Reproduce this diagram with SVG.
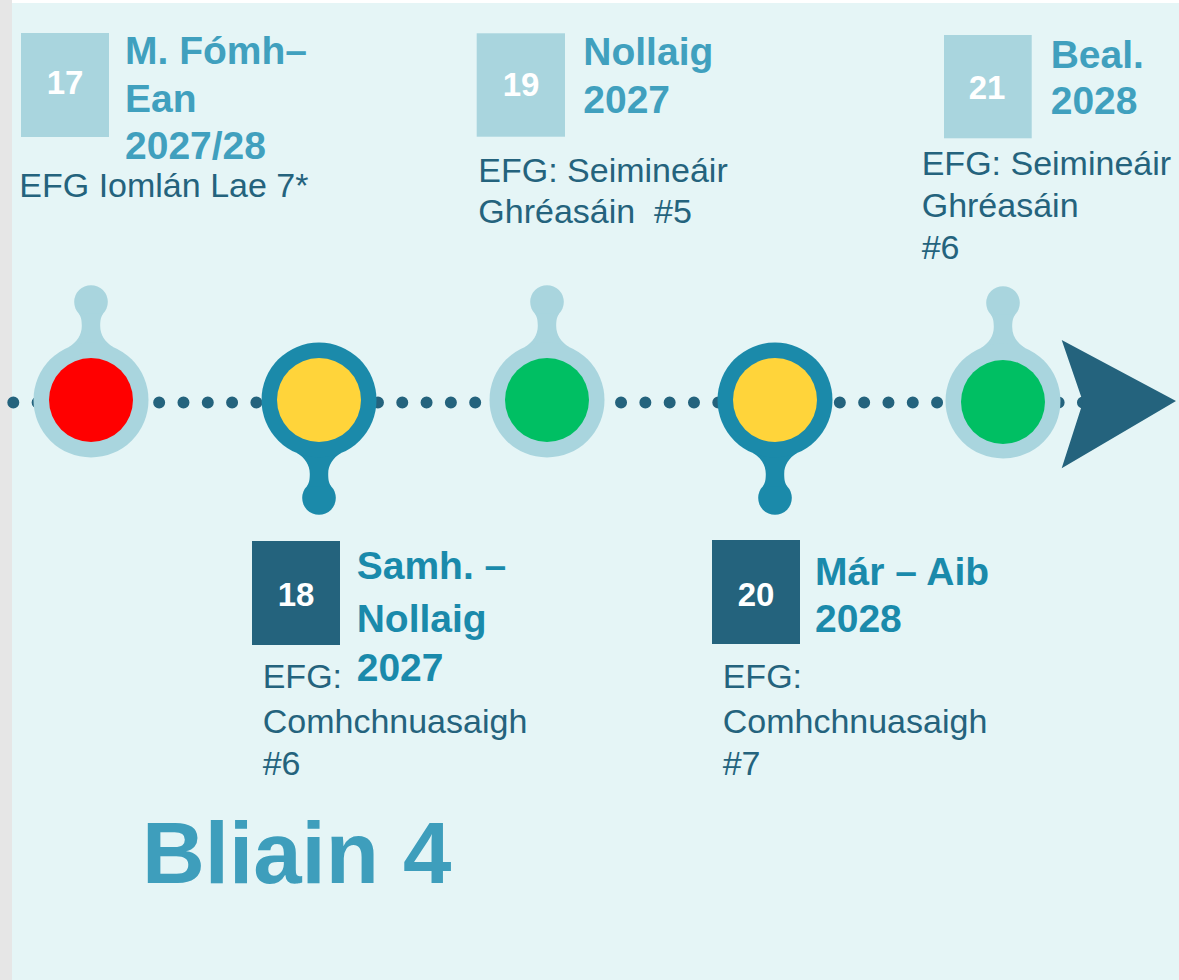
<svg xmlns="http://www.w3.org/2000/svg" xmlns:xlink="http://www.w3.org/1999/xlink" width="1179" height="980" viewBox="0 0 1179 980">
<style>
text{font-family:"Liberation Sans",Arial,sans-serif}
.num{font-size:33px;font-weight:bold;fill:#FFFFFF;text-anchor:middle}
.tl{font-size:39px;font-weight:bold;fill:#40A0BE}
.td{font-size:39px;font-weight:bold;fill:#1A8AAB}
.body{font-size:34px;fill:#24637D}
.boxL{fill:#A9D5DE}
.boxD{fill:#24637D}
.big{font-size:87px;font-weight:bold;fill:#3E9EBC}
</style>
<defs>
<g id="pin">
<circle cx="0" cy="-98" r="16.8"/>
<path d="M -12,-86.2 C -10,-83 -9.2,-80 -9.2,-74 C -9.2,-65 -14,-58 -22,-53.1 L 22,-53.1 C 14,-58 9.2,-65 9.2,-74 C 9.2,-80 10,-83 12,-86.2 Z"/>
<circle cx="0" cy="0" r="57.5"/>
</g>
</defs>
<rect x="0" y="0" width="1179" height="980" fill="#E5F5F6"/>
<rect x="0" y="0" width="1179" height="3" fill="#FFFFFF"/>
<rect x="0" y="0" width="12" height="980" fill="#E6E6E6"/>

<g id="connectors">
<line x1="13.3" y1="402.5" x2="1083" y2="402.5" stroke="#24637D" stroke-width="12" stroke-linecap="round" stroke-dasharray="0 24.31"/>
<polygon points="1061.7,340 1176,401 1061.7,468.3 1083,402" fill="#24637D"/>
</g>

<g id="node17">
<use xlink:href="#pin" href="#pin" transform="translate(91,400)" fill="#A9D5DE"/>
<circle cx="91" cy="400" r="42" fill="#FF0000"/>
<rect class="boxL" x="21" y="33" width="88" height="104"/>
<text class="num" x="65" y="94.3">17</text>
<text class="tl" x="125" y="64">M. Fómh–</text>
<text class="tl" x="125" y="111.7">Ean</text>
<text class="tl" x="125" y="159.3">2027/28</text>
<text class="body" x="19.3" y="196.7">EFG Iomlán Lae 7*</text>
</g>

<g id="node18">
<use xlink:href="#pin" href="#pin" transform="translate(319,400) scale(1,-1)" fill="#1B8AAA"/>
<circle cx="319" cy="400" r="42" fill="#FFD43A"/>
<rect class="boxD" x="252" y="541" width="88" height="104"/>
<text class="num" x="296" y="606">18</text>
<text class="td" x="356.7" y="579.3">Samh. –</text>
<text class="td" x="356.7" y="631.7">Nollaig</text>
<text class="td" x="356.7" y="680.7">2027</text>
<text class="body" x="262.7" y="688.3">EFG:</text>
<text class="body" x="262.7" y="733.3">Comhchnuasaigh</text>
<text class="body" x="262.7" y="775">#6</text>
</g>

<g id="node19">
<use xlink:href="#pin" href="#pin" transform="translate(547,400)" fill="#A9D5DE"/>
<circle cx="547" cy="400" r="42" fill="#00BF63"/>
<rect class="boxL" x="476.7" y="33.3" width="88.3" height="103.4"/>
<text class="num" x="521" y="96">19</text>
<text class="tl" x="583.3" y="65">Nollaig</text>
<text class="tl" x="583.3" y="113.3">2027</text>
<text class="body" x="478.3" y="181.7">EFG: Seimineáir</text>
<text class="body" x="478.3" y="222.7" xml:space="preserve">Ghréasáin  #5</text>
</g>

<g id="node20">
<use xlink:href="#pin" href="#pin" transform="translate(775,400) scale(1,-1)" fill="#1B8AAA"/>
<circle cx="775" cy="400" r="42" fill="#FFD43A"/>
<rect class="boxD" x="712" y="540" width="88" height="104"/>
<text class="num" x="756" y="606">20</text>
<text class="td" x="815" y="585">Már – Aib</text>
<text class="td" x="815" y="631.7">2028</text>
<text class="body" x="722.7" y="688.3">EFG:</text>
<text class="body" x="722.7" y="733.3">Comhchnuasaigh</text>
<text class="body" x="722.7" y="775">#7</text>
</g>

<g id="node21">
<use xlink:href="#pin" href="#pin" transform="translate(1003,401)" fill="#A9D5DE"/>
<circle cx="1003" cy="402" r="42" fill="#00BF63"/>
<rect class="boxL" x="944" y="35" width="87.7" height="103.3"/>
<text class="num" x="987" y="99.3">21</text>
<text class="tl" x="1050.7" y="68.3">Beal.</text>
<text class="tl" x="1050.7" y="114">2028</text>
<text class="body" x="921.7" y="175">EFG: Seimineáir</text>
<text class="body" x="921.7" y="216.7">Ghréasáin</text>
<text class="body" x="921.7" y="259.3">#6</text>
</g>

<text class="big" x="142" y="882.7">Bliain 4</text>
</svg>
